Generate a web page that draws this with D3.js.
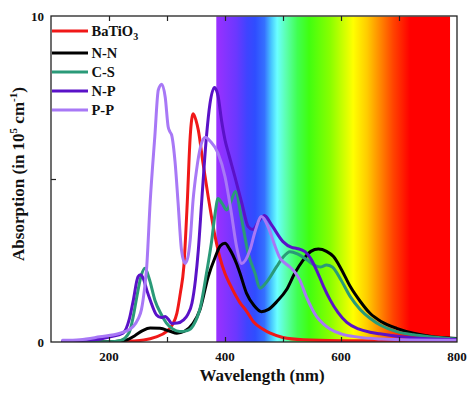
<!DOCTYPE html>
<html>
<head>
<meta charset="utf-8">
<script src="https://cdn.jsdelivr.net/npm/d3@7"></script>
<style>
html,body{margin:0;padding:0;background:#fff;}
svg{display:block;}
text{font-family:"Liberation Serif","Times New Roman",serif;font-weight:bold;fill:#111;}
</style>
</head>
<body>
<svg id="chart" width="474" height="394"></svg>
<script>
// ---------- data ----------
const seriesNames = ["BaTiO3", "N-N", "C-S", "N-P", "P-P"];
const seriesColors = ["#f01818", "#000000", "#2a9a78", "#5a12c8", "#a878f6"];

const batio3Wl  = [120,200,240,260,280,299,310,317,323,329,335,340,345,350,354,362,371,383,391,400,409,426,437,449,465,478,500,535,600,700,800];
const batio3Abs = [0.01,0.01,0.03,0.06,0.15,0.32,0.55,0.88,1.5,2.31,4.3,6.3,7.0,6.8,6.5,5.5,4.46,3.23,2.6,2.1,1.75,1.2,0.95,0.62,0.4,0.27,0.14,0.07,0.04,0.03,0.03];

const nnWl  = [120,200,220,230,245,258,271,288,305,317,330,345,357,371,383,392,400,408,420,426,437,450,463,475,490,506,520,535,548,561,575,587,600,616,633,650,670,696,725,753,800];
const nnAbs = [0.0,0.01,0.03,0.06,0.2,0.35,0.43,0.42,0.33,0.27,0.33,0.57,1.0,2.0,2.6,2.95,3.03,2.85,2.4,2.1,1.5,1.12,0.93,1.0,1.25,1.6,2.1,2.52,2.78,2.85,2.78,2.62,2.25,1.7,1.25,0.88,0.62,0.42,0.27,0.18,0.11];

const csWl  = [120,200,220,235,242,248,255,262,270,279,290,299,310,322,335,345,358,368,377,383,388,395,403,410,418,429,440,452,460,470,489,500,512,525,541,555,564,575,585,600,616,633,650,670,696,725,753,800];
const csAbs = [0.0,0.01,0.05,0.3,0.8,1.39,2.0,2.26,1.9,1.29,0.85,0.58,0.4,0.32,0.35,0.5,1.1,2.1,3.1,3.95,4.4,4.25,4.05,4.3,4.62,3.74,2.72,2.1,1.65,1.8,2.31,2.6,2.77,2.7,2.52,2.35,2.3,2.36,2.3,1.9,1.39,1.0,0.73,0.5,0.32,0.22,0.16,0.09];

const npWl  = [120,180,202,224,235,242,250,254,259,265,271,282,290,297,303,308,318,328,336,343,349,354,360,368,374,382,388,394,400,406,417,429,440,448,458,468,480,500,515,524,538,548,558,570,581,595,610,630,650,667,700,750,800];
const npAbs = [0.03,0.08,0.16,0.27,0.7,1.29,2.0,2.06,1.95,1.6,1.29,0.83,0.75,0.78,0.68,0.57,0.58,0.67,0.85,1.19,1.9,2.82,4.36,6.3,7.3,7.81,7.55,6.8,6.2,5.79,5.07,4.26,3.54,3.45,3.7,3.88,3.6,3.08,2.9,2.87,2.77,2.55,2.2,1.7,1.3,0.9,0.6,0.4,0.3,0.25,0.17,0.1,0.08];

const ppWl  = [120,150,184,219,235,242,250,256,261,265,271,279,285,291,297,302,305,308,314,319,325,331,336,340,345,351,358,366,375,388,400,411,420,429,443,452,463,475,485,495,505,512,520,529,540,558,570,581,600,630,670,720,800];
const ppAbs = [0.05,0.07,0.16,0.27,0.38,0.48,0.7,1.0,1.6,2.3,4.3,6.3,7.73,7.91,7.5,6.6,6.45,6.35,5.5,4.3,2.82,2.41,2.6,3.13,4.36,5.28,6.0,6.28,6.15,5.79,5.07,3.95,2.92,2.41,2.82,3.4,3.85,3.5,3.0,2.57,2.4,2.3,2.15,1.9,1.4,0.78,0.55,0.4,0.25,0.15,0.09,0.06,0.05];

const seriesWl  = [batio3Wl, nnWl, csWl, npWl, ppWl];
const seriesAbs = [batio3Abs, nnAbs, csAbs, npAbs, ppAbs];

const xTickValues = [200, 300, 400, 500, 600, 700];
const xTickLabels = [200, 400, 600, 800];
const yTickValues = [5];
const yTickLabels = [0, 10];

const spectrumRange = [385, 788];
const spectrumStopWl    = [385, 420, 438, 452, 468, 480, 490, 505, 525, 545, 581, 621, 645, 662, 690, 719, 788];
const spectrumStopColor = ["#9b30ff","#6a38ff","#3f44ff","#2f4dff","#3570ff","#48c8ff","#6affff","#5cffb0","#40ff50","#40ff10","#88ff00","#ffff00","#ffcc00","#ff9900","#ff4400","#ff0000","#ff0000"];

// ---------- layout ----------
const svg = d3.select("#chart");
const x = d3.scaleLinear().domain([100, 800]).range([51, 457]);
const y = d3.scaleLinear().domain([0, 10]).range([342, 16]);

const defs = svg.append("defs");
const grad = defs.append("linearGradient").attr("id", "spec")
  .attr("gradientUnits", "userSpaceOnUse")
  .attr("x1", x(spectrumRange[0])).attr("x2", x(spectrumRange[1]))
  .attr("y1", 0).attr("y2", 0);
spectrumStopWl.forEach((w, i) => {
  grad.append("stop")
    .attr("offset", (w - spectrumRange[0]) / (spectrumRange[1] - spectrumRange[0]))
    .attr("stop-color", spectrumStopColor[i]);
});
defs.append("clipPath").attr("id", "clip").append("rect")
  .attr("x", x(100)).attr("y", y(10)).attr("width", x(800) - x(100)).attr("height", y(0) - y(10));

// spectrum background
svg.append("rect")
  .attr("x", x(spectrumRange[0])).attr("y", y(10) + 0.5)
  .attr("width", x(spectrumRange[1]) - x(spectrumRange[0]))
  .attr("height", y(0) - y(10) - 0.5)
  .attr("fill", "url(#spec)");

// curves
const line = d3.line().x(d => x(d[0])).y(d => y(d[1])).curve(d3.curveMonotoneX);
const plot = svg.append("g").attr("clip-path", "url(#clip)");
seriesNames.forEach((name, i) => {
  const pts = seriesWl[i].map((w, j) => [w, seriesAbs[i][j]]);
  plot.append("path").datum(pts)
    .attr("d", line)
    .attr("fill", "none")
    .attr("stroke", seriesColors[i])
    .attr("stroke-width", 3)
    .attr("stroke-linejoin", "round")
    .attr("stroke-linecap", "round");
});

// frame
svg.append("rect")
  .attr("x", x(100)).attr("y", y(10))
  .attr("width", x(800) - x(100)).attr("height", y(0) - y(10))
  .attr("fill", "none").attr("stroke", "#222").attr("stroke-width", 1.3);

// axes
const bottomAxis = d3.axisBottom(x).tickValues(xTickValues).tickSize(-5).tickFormat("");
const topAxis = d3.axisTop(x).tickValues(xTickValues).tickSize(-5).tickFormat("");
const leftAxis = d3.axisLeft(y).tickValues(yTickValues).tickSize(-5).tickFormat("");
function styleAxis(g) {
  g.select(".domain").remove();
  g.selectAll(".tick line").attr("stroke", "#222").attr("stroke-width", 1.2);
}
svg.append("g").attr("transform", `translate(0,${y(0)})`).call(bottomAxis).call(styleAxis);
svg.append("g").attr("transform", `translate(0,${y(10)})`).call(topAxis).call(styleAxis);
svg.append("g").attr("transform", `translate(${x(100)},0)`).call(leftAxis).call(styleAxis);

// tick labels
svg.append("g").selectAll("text").data(xTickLabels).join("text")
  .attr("x", d => x(d)).attr("y", 361)
  .attr("text-anchor", "middle").attr("font-size", 13)
  .text(d => d);
svg.append("g").selectAll("text").data(yTickLabels).join("text")
  .attr("x", 44).attr("y", d => y(d) + 4.5)
  .attr("text-anchor", "end").attr("font-size", 13)
  .text(d => d);

// axis titles
svg.append("text").attr("x", 262).attr("y", 381)
  .attr("text-anchor", "middle").attr("font-size", 17)
  .text("Wavelength (nm)");
const yt = svg.append("text")
  .attr("transform", "translate(24,174) rotate(-90)")
  .attr("text-anchor", "middle").attr("font-size", 17);
yt.append("tspan").text("Absorption (in 10");
yt.append("tspan").attr("font-size", 11).attr("dy", -7).text("5");
yt.append("tspan").attr("dy", 7).text(" cm");
yt.append("tspan").attr("font-size", 11).attr("dy", -7).text("-1");
yt.append("tspan").attr("dy", 7).text(")");

// legend
const legendY = [31, 53, 72, 91, 110];
const leg = svg.append("g");
seriesNames.forEach((name, i) => {
  const ly = legendY[i];
  leg.append("line")
    .attr("x1", 52).attr("x2", 88).attr("y1", ly).attr("y2", ly)
    .attr("stroke", seriesColors[i]).attr("stroke-width", 3);
  const t = leg.append("text").attr("x", 91.5).attr("y", ly + 5).attr("font-size", 14.5);
  if (name === "BaTiO3") {
    t.append("tspan").text("BaTiO");
    t.append("tspan").attr("font-size", 10).attr("dy", 4).text("3");
  } else {
    t.text(name);
  }
});
</script>
</body>
</html>
